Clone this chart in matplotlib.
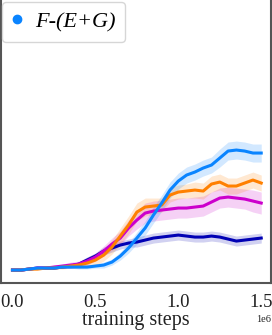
import numpy as np
import matplotlib
matplotlib.use("Agg")
import matplotlib.pyplot as plt

plt.rcParams["font.family"] = ["Liberation Serif", "DejaVu Serif"]

# training steps (x 1e6)
steps = np.arange(0, 31) * 0.05e6

blue_py = [270, 270, 269, 268, 268, 268, 267, 267, 267, 267, 266, 265, 262, 256, 248, 238,
           228, 215, 203, 190, 181, 175, 172, 168, 165, 158, 151, 150, 151, 153, 153]
orange_py = [270, 270, 269, 269, 268, 268, 267, 266, 265, 263, 260, 255, 247, 236, 225, 212,
             207, 206, 205, 195, 192, 191, 190, 191, 184, 182, 186, 186, 183, 180, 183]
magenta_py = [270, 270, 269, 268, 268, 267, 266, 265, 264, 261, 257, 251, 244, 238, 228, 220,
              213, 211, 210, 209, 208, 208, 207, 206, 202, 198, 197, 198, 199, 201, 203]
navy_py = [270, 270, 269, 268, 268, 268, 267, 266, 264, 260, 256, 251, 248, 245, 243, 242,
           240, 238, 237, 236, 235, 236, 237, 237, 236, 237, 239, 241, 240, 239, 238]

# spread of the shaded bands
blue_sd = [1, 1, 1, 1, 1, 1, 1, 1, 2, 2, 2, 3, 3, 4, 5, 6, 7, 8, 8, 8, 8, 8, 8, 8, 8, 9, 9, 9, 9, 9, 9]
orange_sd = [1, 1, 1, 1, 1, 1, 2, 2, 3, 4, 5, 6, 7, 8, 9, 9, 9, 8, 7, 7, 7, 7, 8, 8, 8, 8, 8, 8, 8, 8, 8]
magenta_sd = [1, 1, 1, 1, 1, 2, 2, 3, 3, 4, 4, 5, 6, 7, 8, 9, 10, 10, 10, 10, 10, 10, 10, 10, 10, 10, 10, 10, 10, 11, 11]
navy_sd = [1, 1, 1, 1, 1, 1, 1, 2, 2, 3, 3, 4, 4, 4, 4, 5, 5, 5, 5, 5, 5, 5, 5, 5, 5, 5, 5, 5, 5, 5, 5]

series = [
    ("navy", navy_py, navy_sd, "#0000b4", None),
    ("magenta", magenta_py, magenta_sd, "#cc00cc", None),
    ("orange", orange_py, orange_sd, "#ff8000", None),
    ("blue", blue_py, blue_sd, "#0a84ff", "F-(E+G)"),
]

fig = plt.figure(figsize=(2.72, 3.35), dpi=100)
ax = fig.add_axes([0.002, 0.155, 0.995, 0.87])

handles = []
for name, py, sd, col, lab in series:
    y = 270 - np.array(py, dtype=float)
    s = np.array(sd, dtype=float)
    ax.fill_between(steps, y - s, y + s, color=col, alpha=0.18, lw=0)
    ax.plot(steps, y, color=col, lw=2.2)
    if lab:
        h, = ax.plot([], [], "o", color=col, ms=6, label=lab)
        handles.append(h)

ax.set_xlim(-0.072e6, 1.56e6)
ax.set_ylim(-13, 283 * 0.87 / 0.845 - 13)
ax.set_yticks([])
ax.set_xticks([0, 0.5e6, 1.0e6, 1.5e6])
ax.ticklabel_format(axis="x", style="sci", scilimits=(0, 0))
ax.xaxis.get_offset_text().set_fontsize(7.5)
ax.tick_params(axis="x", length=0, labelsize=13.5, pad=8, colors="#222222")
ax.set_xlabel("training steps", fontsize=14.5, labelpad=0, color="#222222")
for sp in ax.spines.values():
    sp.set_color("#555555")
    sp.set_linewidth(1.5)

leg = ax.legend(handles=handles, loc="upper left", bbox_to_anchor=(0.006, 0.995),
                bbox_transform=fig.transFigure,
                prop={"style": "italic", "size": 16}, handletextpad=0.55,
                handlelength=0.5, borderpad=0.45, borderaxespad=0.0,
                frameon=True, fancybox=True)
leg.get_frame().set_edgecolor("#cccccc")

fig.savefig("out.png", dpi=100)
